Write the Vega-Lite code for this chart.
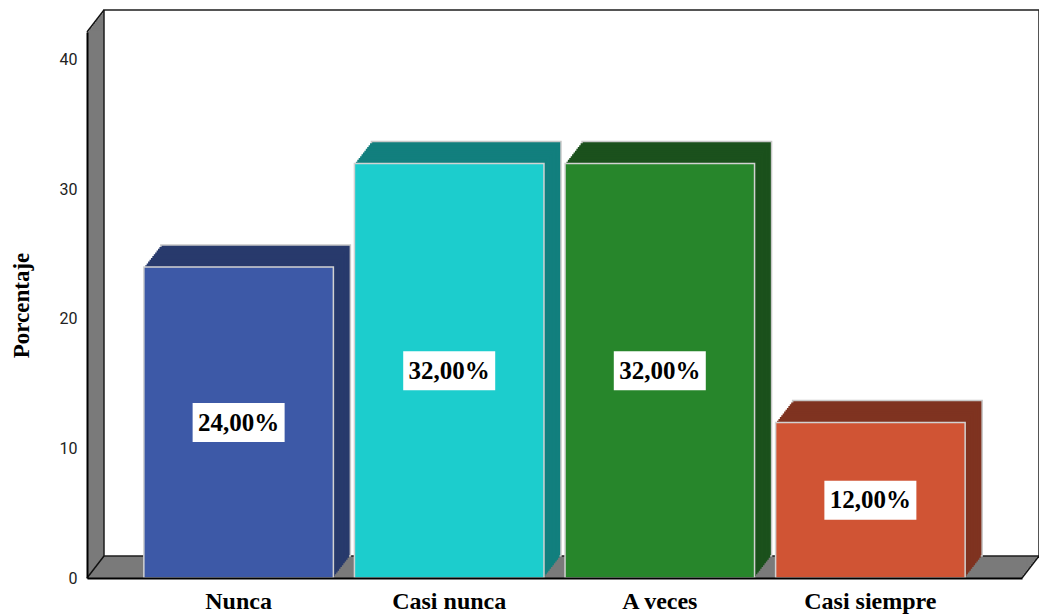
{
  "$schema": "https://vega.github.io/schema/vega-lite/v6.json",
  "width": 935,
  "height": 546,
  "autosize": "none",
  "padding": {"left": 87, "top": 32, "right": 17, "bottom": 38},
  "background": "white",
  "config": {"view": {"stroke": null}},
  "data": {"values": [
    {"respuesta": "Nunca", "porcentaje": 24, "etiqueta": "24,00%"},
    {"respuesta": "Casi nunca", "porcentaje": 32, "etiqueta": "32,00%"},
    {"respuesta": "A veces", "porcentaje": 32, "etiqueta": "32,00%"},
    {"respuesta": "Casi siempre", "porcentaje": 12, "etiqueta": "12,00%"}
  ]},
  "layer": [
    {
      "data": {"values": [{"pared": "marco"}]},
      "encoding": {
        "x": {"datum": 0, "type": "quantitative", "scale": {"domain": [0, 1], "nice": false}, "axis": null},
        "x2": {"datum": 1},
        "y": {"datum": 0, "type": "quantitative", "scale": {"domain": [0, 1], "nice": false}, "axis": null},
        "y2": {"datum": 1}
      },
      "layer": [
        {"mark": {"type": "rect", "fill": "#7a7a7a", "xOffset": 17, "x2Offset": 17, "yOffset": -22, "y2Offset": -22}},
        {"mark": {"type": "rect", "fill": "#7a7a7a", "xOffset": 15.58, "x2Offset": 15.58, "yOffset": -20.17, "y2Offset": -20.17}},
        {"mark": {"type": "rect", "fill": "#7a7a7a", "xOffset": 14.17, "x2Offset": 14.17, "yOffset": -18.33, "y2Offset": -18.33}},
        {"mark": {"type": "rect", "fill": "#7a7a7a", "xOffset": 12.75, "x2Offset": 12.75, "yOffset": -16.5, "y2Offset": -16.5}},
        {"mark": {"type": "rect", "fill": "#7a7a7a", "xOffset": 11.33, "x2Offset": 11.33, "yOffset": -14.67, "y2Offset": -14.67}},
        {"mark": {"type": "rect", "fill": "#7a7a7a", "xOffset": 9.92, "x2Offset": 9.92, "yOffset": -12.83, "y2Offset": -12.83}},
        {"mark": {"type": "rect", "fill": "#7a7a7a", "xOffset": 8.5, "x2Offset": 8.5, "yOffset": -11, "y2Offset": -11}},
        {"mark": {"type": "rect", "fill": "#7a7a7a", "xOffset": 7.08, "x2Offset": 7.08, "yOffset": -9.17, "y2Offset": -9.17}},
        {"mark": {"type": "rect", "fill": "#7a7a7a", "xOffset": 5.67, "x2Offset": 5.67, "yOffset": -7.33, "y2Offset": -7.33}},
        {"mark": {"type": "rect", "fill": "#7a7a7a", "xOffset": 4.25, "x2Offset": 4.25, "yOffset": -5.5, "y2Offset": -5.5}},
        {"mark": {"type": "rect", "fill": "#7a7a7a", "xOffset": 2.83, "x2Offset": 2.83, "yOffset": -3.67, "y2Offset": -3.67}},
        {"mark": {"type": "rect", "fill": "#7a7a7a", "xOffset": 1.42, "x2Offset": 1.42, "yOffset": -1.83, "y2Offset": -1.83}},
        {"mark": {"type": "rect", "fill": "#7a7a7a"}},
        {"mark": {"type": "rect", "fill": "white", "stroke": "#1e1e1e", "strokeWidth": 1.5, "xOffset": 17, "x2Offset": 17, "yOffset": -22, "y2Offset": -22}},
        {"mark": {"type": "rule", "color": "#111", "strokeWidth": 1.5, "x2Offset": 17, "y2Offset": -22},
         "encoding": {"x": {"datum": 0, "type": "quantitative"}, "x2": {"datum": 0}, "y": {"datum": 0, "type": "quantitative"}, "y2": {"datum": 0}}},
        {"mark": {"type": "rule", "color": "#111", "strokeWidth": 1.5, "x2Offset": 17, "y2Offset": -22},
         "encoding": {"x": {"datum": 0, "type": "quantitative"}, "x2": {"datum": 0}, "y": {"datum": 1, "type": "quantitative"}, "y2": {"datum": 1}}},
        {"mark": {"type": "rule", "color": "#111", "strokeWidth": 1.5, "x2Offset": 17, "y2Offset": -22},
         "encoding": {"x": {"datum": 1, "type": "quantitative"}, "x2": {"datum": 1}, "y": {"datum": 0, "type": "quantitative"}, "y2": {"datum": 0}}}
      ]
    },
    {
      "encoding": {
        "x": {
          "field": "respuesta", "type": "nominal", "sort": null,
          "scale": {"paddingInner": 0.1, "paddingOuter": 0.27},
          "axis": {"title": null, "domainColor": "black", "domainWidth": 2, "ticks": false,
                   "labelFont": "Liberation Serif", "labelFontWeight": "bold", "labelFontSize": 24,
                   "labelColor": "black", "labelPadding": 11, "labelAngle": 0, "zindex": 1}
        },
        "y": {
          "field": "porcentaje", "type": "quantitative",
          "scale": {"domain": [0, 42.15], "nice": false},
          "axis": {"title": "Porcentaje", "values": [0, 10, 20, 30, 40], "ticks": false, "grid": false,
                   "domainColor": "black", "domainWidth": 2,
                   "labelFont": "Roboto", "labelFontSize": 16, "labelColor": "#222", "labelPadding": 10,
                   "titleFont": "Liberation Serif", "titleFontWeight": "bold", "titleFontSize": 23,
                   "titleColor": "black", "titlePadding": 26, "zindex": 1}
        }
      },
      "layer": [
        {
          "encoding": {
            "fill": {
              "field": "respuesta", "type": "nominal", "legend": null,
              "scale": {"domain": ["Nunca", "Casi nunca", "A veces", "Casi siempre"],
                        "range": ["#283a6c", "#127f7e", "#1b511c", "#7f3320"]}
            }
          },
          "layer": [
            {"mark": {"type": "bar", "stroke": "#c8c8c8", "strokeWidth": 1.5, "xOffset": 17, "x2Offset": 17, "yOffset": -22, "y2Offset": -22}},
            {"mark": {"type": "bar", "xOffset": 15.58, "x2Offset": 15.58, "yOffset": -20.17, "y2Offset": -20.17}},
            {"mark": {"type": "bar", "xOffset": 14.17, "x2Offset": 14.17, "yOffset": -18.33, "y2Offset": -18.33}},
            {"mark": {"type": "bar", "xOffset": 12.75, "x2Offset": 12.75, "yOffset": -16.5, "y2Offset": -16.5}},
            {"mark": {"type": "bar", "xOffset": 11.33, "x2Offset": 11.33, "yOffset": -14.67, "y2Offset": -14.67}},
            {"mark": {"type": "bar", "xOffset": 9.92, "x2Offset": 9.92, "yOffset": -12.83, "y2Offset": -12.83}},
            {"mark": {"type": "bar", "xOffset": 8.5, "x2Offset": 8.5, "yOffset": -11, "y2Offset": -11}},
            {"mark": {"type": "bar", "xOffset": 7.08, "x2Offset": 7.08, "yOffset": -9.17, "y2Offset": -9.17}},
            {"mark": {"type": "bar", "xOffset": 5.67, "x2Offset": 5.67, "yOffset": -7.33, "y2Offset": -7.33}},
            {"mark": {"type": "bar", "xOffset": 4.25, "x2Offset": 4.25, "yOffset": -5.5, "y2Offset": -5.5}},
            {"mark": {"type": "bar", "xOffset": 2.83, "x2Offset": 2.83, "yOffset": -3.67, "y2Offset": -3.67}},
            {"mark": {"type": "bar", "xOffset": 1.42, "x2Offset": 1.42, "yOffset": -1.83, "y2Offset": -1.83}}
          ]
        },
        {
          "mark": {"type": "bar", "stroke": "#d2d2d2", "strokeWidth": 1.5},
          "encoding": {
            "color": {
              "field": "respuesta", "type": "nominal", "legend": null,
              "scale": {"domain": ["Nunca", "Casi nunca", "A veces", "Casi siempre"],
                        "range": ["#3d59a7", "#1ccdcd", "#27862b", "#d05434"]}
            }
          }
        }
      ]
    },
    {
      "encoding": {
        "x": {"field": "respuesta", "type": "nominal", "sort": null,
              "scale": {"type": "band", "paddingInner": 0.1, "paddingOuter": 0.27}, "axis": null},
        "y": {"field": "porcentaje", "type": "quantitative", "scale": {"domain": [0, 84.3], "nice": false}, "axis": null}
      },
      "layer": [
        {"mark": {"type": "point", "shape": "M-1,-0.424H1V0.424H-1Z", "size": 8464, "filled": true, "fill": "white", "opacity": 1, "strokeWidth": 0}},
        {"mark": {"type": "text", "font": "Liberation Serif", "fontWeight": "bold", "fontSize": 25, "color": "black", "baseline": "middle", "align": "center"},
         "encoding": {"text": {"field": "etiqueta"}}}
      ]
    }
  ],
  "resolve": {"scale": {"x": "independent", "y": "independent"}}
}
